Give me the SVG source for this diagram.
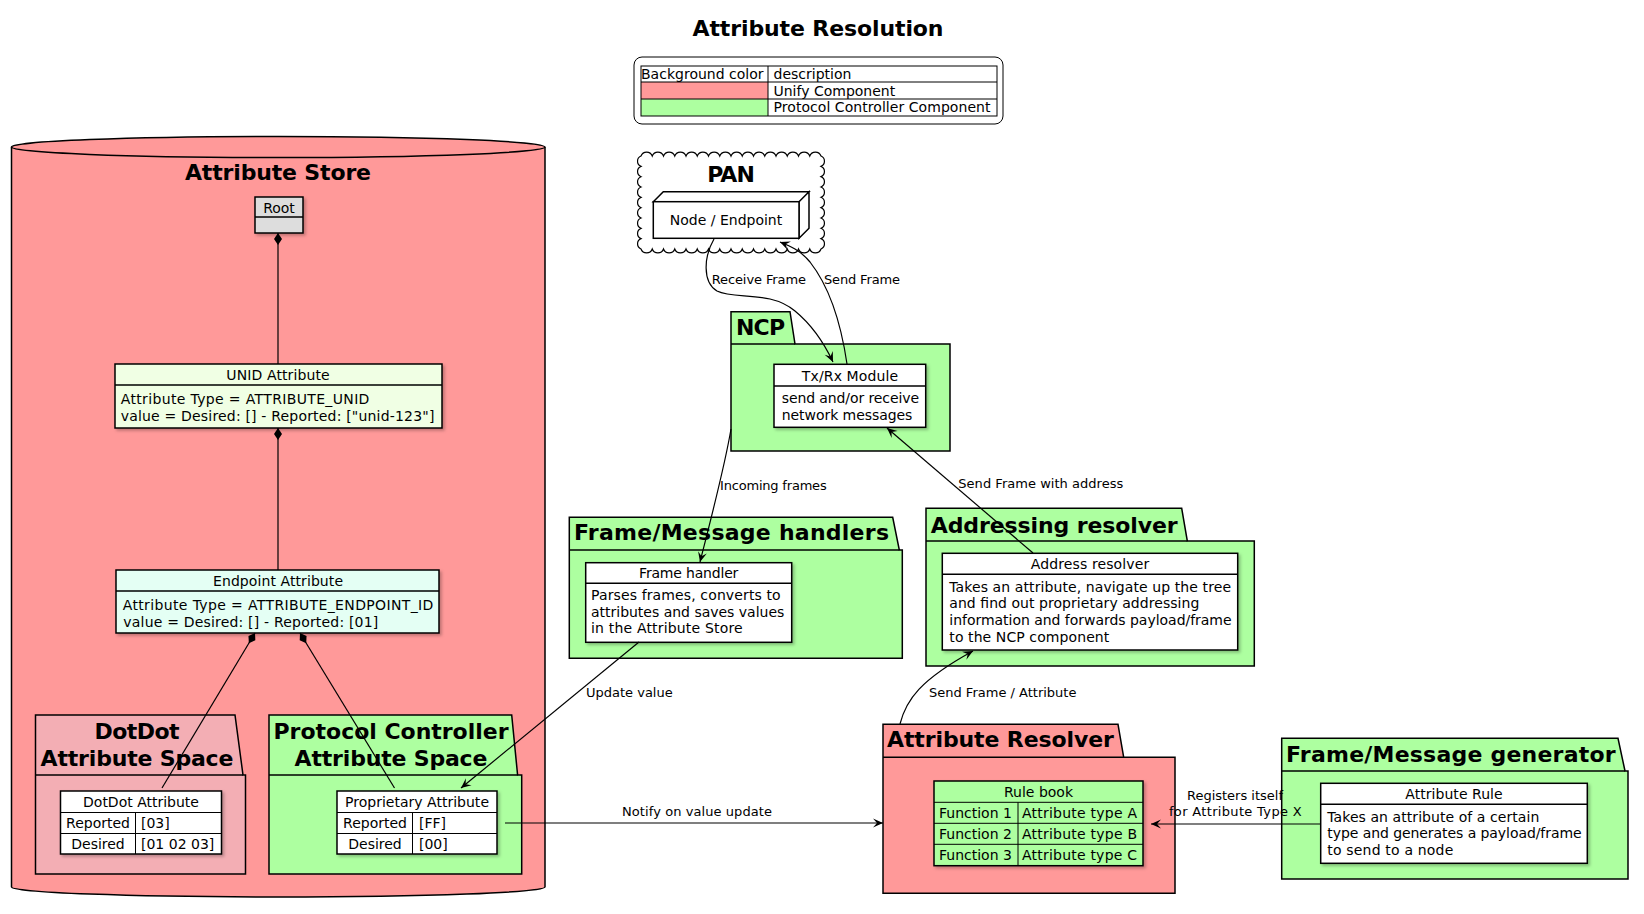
<svg xmlns="http://www.w3.org/2000/svg" width="1644" height="914" viewBox="0 0 1644 914">
<style>
text{font-family:"DejaVu Sans","Noto Sans",sans-serif;fill:#000}
.t{font-size:14px}
.s{font-size:13px}
.b{font-size:22px;font-weight:bold}
.c{text-anchor:middle}
.box{fill:#fff;stroke:#000;stroke-width:1.5}
.red{fill:#FF9999;stroke:#000;stroke-width:1.5}
.grn{fill:#ADFFA0;stroke:#000;stroke-width:1.5}
.ln{fill:none;stroke:#000;stroke-width:1.5}
.thin{fill:none;stroke:#000;stroke-width:1}
.con{fill:none;stroke:#000;stroke-width:1.2}
</style>
<defs>
<marker id="arr" viewBox="-11 -5 12 10" markerWidth="12" markerHeight="10" refX="0" refY="0" orient="auto" markerUnits="userSpaceOnUse">
<path d="M0,0 L-10,-4.5 L-6,0 L-10,4.5 Z" fill="#000"/>
</marker>
<marker id="dia" viewBox="-1 -5 14 10" markerWidth="14" markerHeight="10" refX="0" refY="0" orient="auto" markerUnits="userSpaceOnUse">
<path d="M0,0 L6,-4 L12,0 L6,4 Z" fill="#000"/>
</marker>
<filter id="sh" x="-10%" y="-10%" width="130%" height="140%">
<feDropShadow dx="2" dy="2" stdDeviation="1.5" flood-color="#000" flood-opacity="0.25"/>
</filter>
</defs>
<rect width="1644" height="914" fill="#fff"/>

<g id="title">
<text class="b c" x="818" y="36" textLength="251">Attribute Resolution</text>
</g>

<g id="legend">
<rect x="634" y="57" width="369" height="67" rx="8" fill="#fff" stroke="#000" stroke-width="1"/>
<rect x="641" y="82" width="127" height="17" fill="#FF9999"/>
<rect x="641" y="99" width="127" height="17" fill="#ADFFA0"/>
<rect x="641" y="66" width="356" height="50" class="thin"/>
<path d="M641,82 H997 M641,99 H997 M768,66 V116" class="thin"/>
<text class="t" x="641" y="79" textLength="122.6">Background color</text>
<text class="t" x="773.5" y="79">description</text>
<text class="t" x="773.5" y="95.5">Unify Component</text>
<text class="t" x="773.5" y="112" textLength="217">Protocol Controller Component</text>
</g>

<g id="attribute-store">
<path d="M11.5,147 L11.5,887 A266.75,10 0 0 0 545,887 L545,147 A266.75,10.5 0 0 0 11.5,147 Z" class="red"/>
<path d="M11.5,147 A266.75,10.5 0 0 0 545,147" class="ln"/>
<text class="b c" x="278" y="180" textLength="186">Attribute Store</text>
</g>

<g id="root">
<rect x="255" y="197" width="48" height="36" fill="#DDDDDD" stroke="#000" stroke-width="1.5" filter="url(#sh)"/>
<path d="M255,217 H303" class="ln"/>
<text class="t c" x="279" y="212.5">Root</text>
</g>

<g id="unid-attribute">
<rect x="115" y="364" width="327" height="64" fill="#F0FFE4" stroke="#000" stroke-width="1.5" filter="url(#sh)"/>
<path d="M115,385 H442" class="ln"/>
<text class="t c" x="278" y="380" textLength="103.3">UNID Attribute</text>
<text class="t" x="120.7" y="404" textLength="248.7">Attribute Type = ATTRIBUTE_UNID</text>
<text class="t" x="120.7" y="421" textLength="313.7">value = Desired: [] - Reported: ["unid-123"]</text>
</g>

<g id="endpoint-attribute">
<rect x="116" y="570" width="323" height="63" fill="#E4FFF4" stroke="#000" stroke-width="1.5" filter="url(#sh)"/>
<path d="M116,591 H439" class="ln"/>
<text class="t c" x="278" y="586" textLength="130">Endpoint Attribute</text>
<text class="t" x="122.7" y="610" textLength="310.7">Attribute Type = ATTRIBUTE_ENDPOINT_ID</text>
<text class="t" x="123.3" y="627" textLength="255">value = Desired: [] - Reported: [01]</text>
</g>

<g id="dotdot-space">
<path d="M35.5,775 V715 H235 L243,775 H245.5 V874 H35.5 Z" fill="#F3AEB4" stroke="#000" stroke-width="1.5"/>
<path d="M35.5,775 H243" class="ln"/>
<text class="b c" x="137" y="739" textLength="85">DotDot</text>
<text class="b c" x="137" y="766" textLength="192.8">Attribute Space</text>
</g>

<g id="dotdot-attribute">
<rect x="60.5" y="791" width="161" height="63" class="box" filter="url(#sh)"/>
<path d="M60.5,812.5 H221.5 M60.5,833.5 H221.5 M135.5,812.5 V854" class="thin"/>
<text class="t c" x="141" y="807">DotDot Attribute</text>
<text class="t c" x="98" y="828">Reported</text>
<text class="t" x="141" y="828">[03]</text>
<text class="t c" x="98" y="849">Desired</text>
<text class="t" x="141" y="849">[01 02 03]</text>
</g>

<g id="pc-space">
<path d="M269,775 V715 H511.7 L517.6,775 H521.7 V874 H269 Z" class="grn"/>
<path d="M269,775 H517.6" class="ln"/>
<text class="b c" x="391" y="739" textLength="235">Protocol Controller</text>
<text class="b c" x="391" y="766" textLength="192.8">Attribute Space</text>
</g>

<g id="proprietary-attribute">
<rect x="337" y="791" width="160" height="63" class="box" filter="url(#sh)"/>
<path d="M337,812.5 H497 M337,833.5 H497 M412.5,812.5 V854" class="thin"/>
<text class="t c" x="417" y="807" textLength="144">Proprietary Attribute</text>
<text class="t c" x="375" y="828">Reported</text>
<text class="t" x="419" y="828">[FF]</text>
<text class="t c" x="375" y="849">Desired</text>
<text class="t" x="419" y="849">[00]</text>
</g>

<g id="pan">
<path d="M641,156 a6,6 0 0 1 11.25,0 a6,6 0 0 1 11.25,0 a6,6 0 0 1 11.25,0 a6,6 0 0 1 11.25,0 a6,6 0 0 1 11.25,0 a6,6 0 0 1 11.25,0 a6,6 0 0 1 11.25,0 a6,6 0 0 1 11.25,0 a6,6 0 0 1 11.25,0 a6,6 0 0 1 11.25,0 a6,6 0 0 1 11.25,0 a6,6 0 0 1 11.25,0 a6,6 0 0 1 11.25,0 a6,6 0 0 1 11.25,0 a6,6 0 0 1 11.25,0 a6,6 0 0 1 11.25,0 a5.6,5.6 0 0 1 0,10.33 a5.6,5.6 0 0 1 0,10.33 a5.6,5.6 0 0 1 0,10.33 a5.6,5.6 0 0 1 0,10.33 a5.6,5.6 0 0 1 0,10.33 a5.6,5.6 0 0 1 0,10.33 a5.6,5.6 0 0 1 0,10.33 a5.6,5.6 0 0 1 0,10.33 a5.6,5.6 0 0 1 0,10.36 a6,6 0 0 1 -11.25,0 a6,6 0 0 1 -11.25,0 a6,6 0 0 1 -11.25,0 a6,6 0 0 1 -11.25,0 a6,6 0 0 1 -11.25,0 a6,6 0 0 1 -11.25,0 a6,6 0 0 1 -11.25,0 a6,6 0 0 1 -11.25,0 a6,6 0 0 1 -11.25,0 a6,6 0 0 1 -11.25,0 a6,6 0 0 1 -11.25,0 a6,6 0 0 1 -11.25,0 a6,6 0 0 1 -11.25,0 a6,6 0 0 1 -11.25,0 a6,6 0 0 1 -11.25,0 a6,6 0 0 1 -11.25,0 a5.6,5.6 0 0 1 0,-10.33 a5.6,5.6 0 0 1 0,-10.33 a5.6,5.6 0 0 1 0,-10.33 a5.6,5.6 0 0 1 0,-10.33 a5.6,5.6 0 0 1 0,-10.33 a5.6,5.6 0 0 1 0,-10.33 a5.6,5.6 0 0 1 0,-10.33 a5.6,5.6 0 0 1 0,-10.33 a5.6,5.6 0 0 1 0,-10.36 Z" fill="#fff" stroke="#000" stroke-width="1.2"/>
<text class="b c" x="731" y="182" textLength="47.7">PAN</text>
</g>

<g id="node-endpoint">
<path d="M653.3,201.7 L663.3,191.7 H809 L799,201.7 Z M799,201.7 L809,191.7 V228.3 L799,238.3 Z" class="box"/>
<rect x="653.3" y="201.7" width="145.7" height="36.6" class="box"/>
<text class="t c" x="726" y="225">Node / Endpoint</text>
</g>

<g id="ncp">
<path d="M731,344 V311.7 H790 L795,344 H950 V451 H731 Z" class="grn"/>
<path d="M731,344 H795" class="ln"/>
<text class="b" x="736" y="335" textLength="49">NCP</text>
</g>

<g id="txrx-module">
<rect x="774" y="364.3" width="151.7" height="63" class="box" filter="url(#sh)"/>
<path d="M774,386 H925.7" class="ln"/>
<text class="t c" x="850" y="380.7" textLength="96.3">Tx/Rx Module</text>
<text class="t" x="781.7" y="403.3" textLength="137.3">send and/or receive</text>
<text class="t" x="781.7" y="420" textLength="130.7">network messages</text>
</g>

<g id="frame-handlers">
<path d="M569.3,550 V517.3 H892.7 L899.3,550 H902.3 V658.3 H569.3 Z" class="grn"/>
<path d="M569.3,550 H899.3" class="ln"/>
<text class="b" x="574" y="540" textLength="315">Frame/Message handlers</text>
</g>

<g id="frame-handler">
<rect x="585.7" y="562.7" width="206" height="79.6" class="box" filter="url(#sh)"/>
<path d="M585.7,583.3 H791.7" class="ln"/>
<text class="t c" x="688.7" y="577.7" textLength="99.3">Frame handler</text>
<text class="t" x="591" y="600" textLength="189.7">Parses frames, converts to</text>
<text class="t" x="591" y="616.7" textLength="193.3">attributes and saves values</text>
<text class="t" x="591" y="633.3" textLength="151.7">in the Attribute Store</text>
</g>

<g id="addressing-resolver">
<path d="M926,541 V508.3 H1181.7 L1187.3,541 H1254.3 V666 H926 Z" class="grn"/>
<path d="M926,541 H1187.3" class="ln"/>
<text class="b" x="930.7" y="532.7" textLength="247">Addressing resolver</text>
</g>

<g id="address-resolver">
<rect x="942.3" y="553.3" width="295.4" height="96.7" class="box" filter="url(#sh)"/>
<path d="M942.3,574.3 H1237.7" class="ln"/>
<text class="t c" x="1090" y="569.3" textLength="118.3">Address resolver</text>
<text class="t" x="949.3" y="591.7" textLength="281.7">Takes an attribute, navigate up the tree</text>
<text class="t" x="949.3" y="608.3" textLength="250">and find out proprietary addressing</text>
<text class="t" x="949.3" y="625" textLength="282.3">information and forwards payload/frame</text>
<text class="t" x="949.3" y="641.7" textLength="160">to the NCP component</text>
</g>

<g id="attribute-resolver">
<path d="M883,757.3 V724.3 H1118 L1123.7,757.3 H1175 V893.3 H883 Z" class="red"/>
<path d="M883,757.3 H1123.7" class="ln"/>
<text class="b" x="887" y="746.7" textLength="226.8">Attribute Resolver</text>
</g>

<g id="rule-book">
<rect x="934" y="781" width="209" height="84.7" class="grn" filter="url(#sh)"/>
<path d="M934,802.3 H1143 M934,823.3 H1143 M934,844.3 H1143 M1018,802.3 V865.7" class="thin"/>
<text class="t c" x="1038.5" y="797">Rule book</text>
<text class="t" x="939" y="818">Function 1</text>
<text class="t" x="1022" y="818" textLength="115">Attribute type A</text>
<text class="t" x="939" y="839">Function 2</text>
<text class="t" x="1022" y="839" textLength="115">Attribute type B</text>
<text class="t" x="939" y="860">Function 3</text>
<text class="t" x="1022" y="860" textLength="115">Attribute type C</text>
</g>

<g id="frame-generator">
<path d="M1281.7,771 V738.3 H1618 L1625,771 H1628 V879 H1281.7 Z" class="grn"/>
<path d="M1281.7,771 H1625" class="ln"/>
<text class="b" x="1286" y="761.7" textLength="329.7">Frame/Message generator</text>
</g>

<g id="attribute-rule">
<rect x="1320.7" y="783.3" width="266.6" height="80" class="box" filter="url(#sh)"/>
<path d="M1320.7,804.3 H1587.3" class="ln"/>
<text class="t c" x="1454" y="799" textLength="97.3">Attribute Rule</text>
<text class="t" x="1327.3" y="821.7" textLength="212">Takes an attribute of a certain</text>
<text class="t" x="1327.3" y="838.3" textLength="254.3">type and generates a payload/frame</text>
<text class="t" x="1327.3" y="855" textLength="126">to send to a node</text>
</g>

<g id="connectors">
<path d="M278,233 V364" class="con" marker-start="url(#dia)"/>
<path d="M278,428 V570" class="con" marker-start="url(#dia)"/>
<path d="M255,633 L162,788" class="con" marker-start="url(#dia)"/>
<path d="M300,633 L394.5,788" class="con" marker-start="url(#dia)"/>
<path d="M714,239 C704,256 702,282 717,291 C735,300 770,290 795,311 C812,325 825,345 833,362" class="con" marker-end="url(#arr)"/>
<path d="M847,364 C842,330 832,290 810,262 C800,250 790,246 780,242" class="con" marker-end="url(#arr)"/>
<path d="M731,429 C725,465 712,515 700,562" class="con" marker-end="url(#arr)"/>
<path d="M1033,553 L887,428" class="con" marker-end="url(#arr)"/>
<path d="M639,642 L461,788" class="con" marker-end="url(#arr)"/>
<path d="M505,823 L883,823" class="con" marker-end="url(#arr)"/>
<path d="M900,724 C906,700 920,680 973,651" class="con" marker-end="url(#arr)"/>
<path d="M1321,824 L1151,824" class="con" marker-end="url(#arr)"/>
<text class="s" x="711.7" y="284" textLength="94.3">Receive Frame</text>
<text class="s" x="824" y="284" textLength="76">Send Frame</text>
<text class="s" x="720" y="490" textLength="106.7">Incoming frames</text>
<text class="s" x="958.3" y="488" textLength="165">Send Frame with address</text>
<text class="s" x="586" y="696.5">Update value</text>
<text class="s" x="929" y="696.5">Send Frame / Attribute</text>
<text class="s c" x="697" y="816" textLength="150">Notify on value update</text>
<text class="s c" x="1235" y="800">Registers itself</text>
<text class="s c" x="1235.3" y="816" textLength="132.7">for Attribute Type X</text>
</g>
</svg>
